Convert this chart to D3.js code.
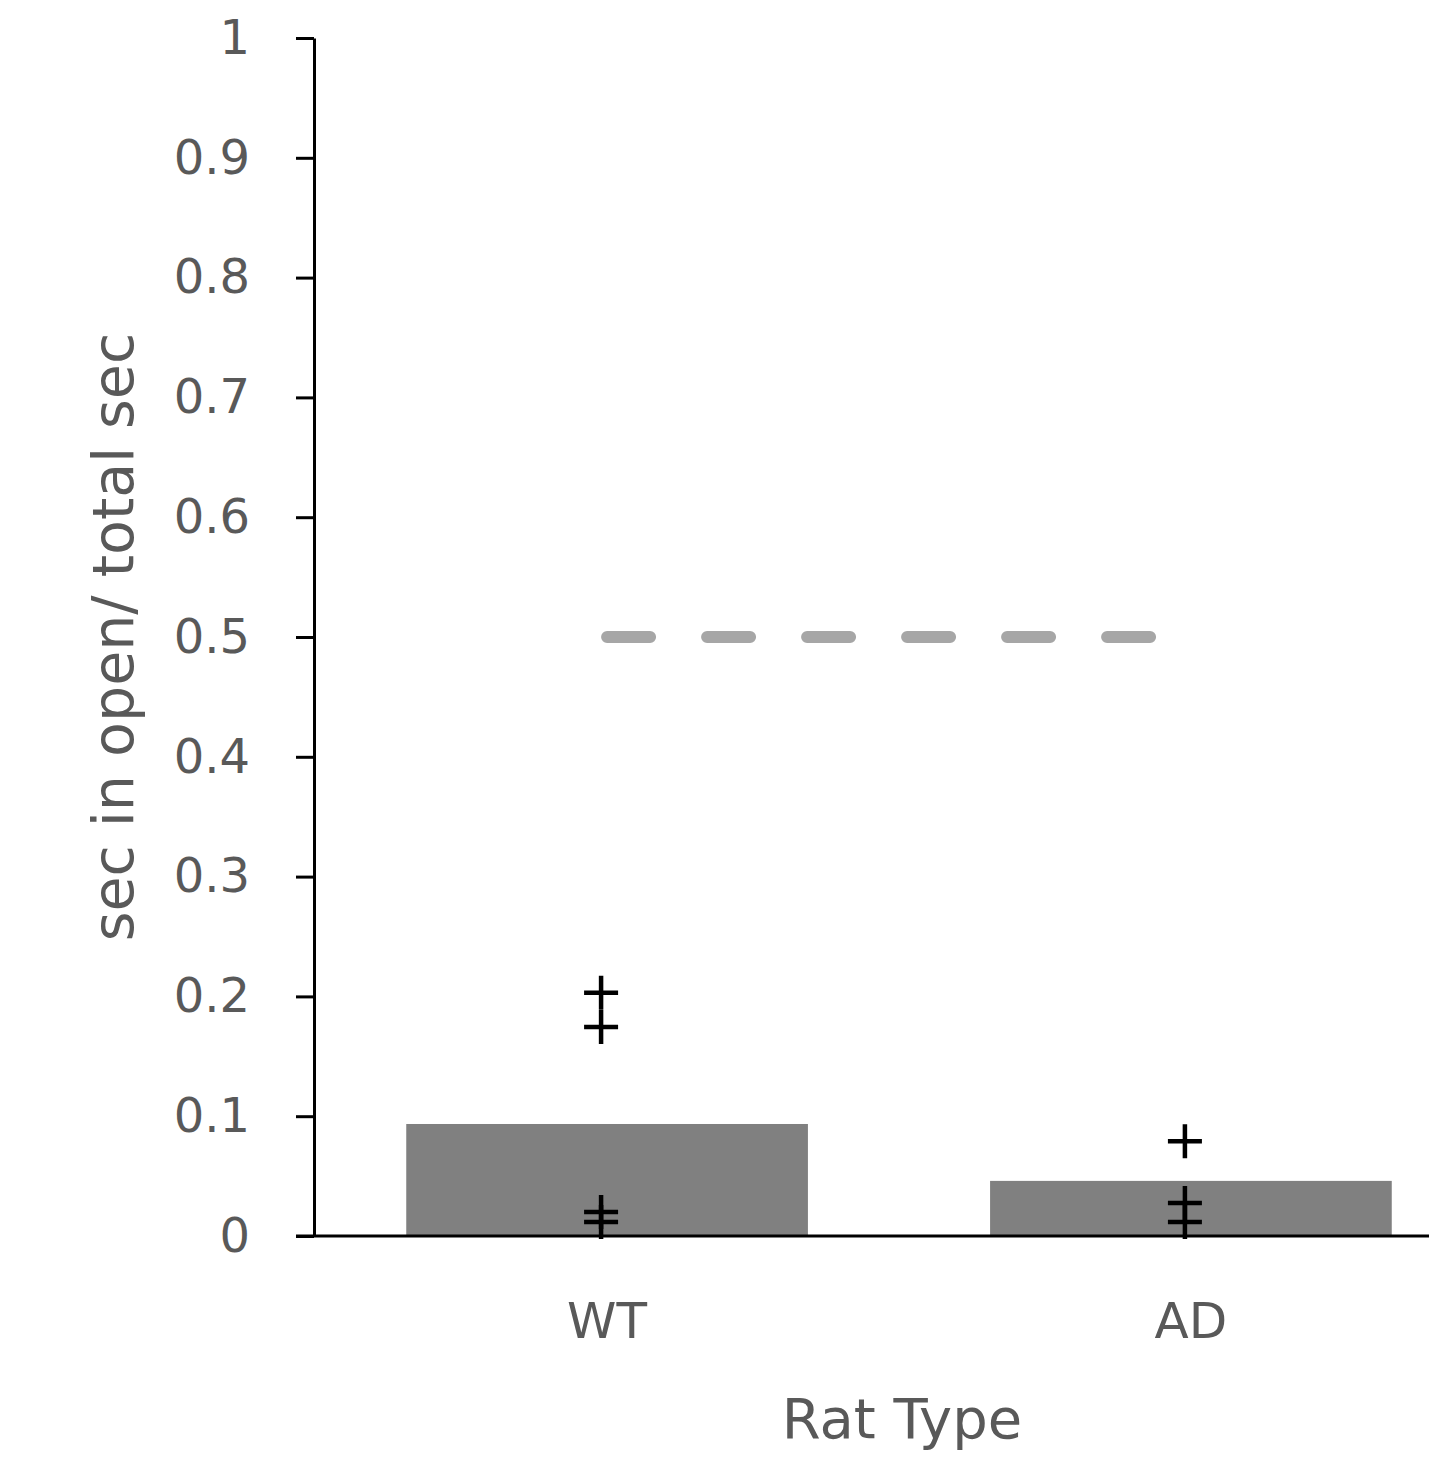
<!DOCTYPE html>
<html>
<head>
<meta charset="utf-8">
<script src="https://cdn.jsdelivr.net/npm/d3@7"></script>
<style>
  body { margin: 0; background: #fff; }
  text { font-family: "DejaVu Sans", sans-serif; fill: #595959; }
</style>
</head>
<body>
<div id="chart"></div>
<script>
const categories = ['WT', 'AD'];
const means = [0.0935, 0.046];
const wtPoints = [0.203, 0.1745, 0.020, 0.0117];
const adPoints = [0.079, 0.0275, 0.0117];
const chance = 0.5;
const yTicks = [0, 0.1, 0.2, 0.3, 0.4, 0.5, 0.6, 0.7, 0.8, 0.9, 1];
const yTickLabels = ['0', '0.1', '0.2', '0.3', '0.4', '0.5', '0.6', '0.7', '0.8', '0.9', '1'];

const width = 1429;
const height = 1472;
const margin = { top: 38, left: 314, bottom: 236 };

const svg = d3.select('#chart')
  .append('svg')
  .attr('width', width)
  .attr('height', height);

const x = d3.scaleBand()
  .domain(categories)
  .range([margin.left, margin.left + 1170])
  .paddingInner(0.312)
  .paddingOuter(0.158);

const y = d3.scaleLinear()
  .domain([0, 1])
  .range([height - margin.bottom, margin.top]);

// bars
svg.append('g')
  .attr('fill', '#808080')
  .selectAll('rect')
  .data(categories)
  .join('rect')
    .attr('x', d => x(d))
    .attr('y', (d, i) => y(means[i]))
    .attr('width', x.bandwidth())
    .attr('height', (d, i) => y(0) - y(means[i]));

// chance line
const cx = d => x(d) + x.bandwidth() / 2;
svg.append('line')
  .attr('x1', cx('WT'))
  .attr('x2', cx('AD'))
  .attr('y1', y(chance))
  .attr('y2', y(chance))
  .attr('stroke', '#a6a6a6')
  .attr('stroke-width', 12)
  .attr('stroke-linecap', 'round')
  .attr('stroke-dasharray', '43,57');

// individual points as plus markers
const pts = [
  ...wtPoints.map(v => ({ cat: 'WT', v })),
  ...adPoints.map(v => ({ cat: 'AD', v }))
];
const half = 17;
svg.append('g')
  .attr('stroke', '#000')
  .attr('stroke-width', 4.5)
  .attr('fill', 'none')
  .selectAll('path')
  .data(pts)
  .join('path')
    .attr('d', d => {
      const px = cx(d.cat) - 6, py = y(d.v);
      const p = d3.path();
      p.moveTo(px - half, py); p.lineTo(px + half, py);
      p.moveTo(px, py - half); p.lineTo(px, py + half);
      return p.toString();
    });

// y axis
const yAxis = svg.append('g')
  .attr('transform', `translate(${margin.left},0)`)
  .call(d3.axisLeft(y)
    .tickValues(yTicks)
    .tickFormat((d, i) => yTickLabels[i])
    .tickSize(18)
    .tickSizeOuter(0)
    .tickPadding(46));
yAxis.select('.domain').attr('stroke', '#000').attr('stroke-width', 3);
yAxis.selectAll('.tick line').attr('stroke', '#000').attr('stroke-width', 3);
yAxis.selectAll('.tick text')
  .attr('font-size', 48)
  .attr('font-family', 'DejaVu Sans')
  .attr('fill', '#595959');

// x axis line
svg.append('line')
  .attr('x1', margin.left - 18)
  .attr('x2', width)
  .attr('y1', y(0))
  .attr('y2', y(0))
  .attr('stroke', '#000')
  .attr('stroke-width', 3);

// category labels
svg.append('g')
  .selectAll('text')
  .data(categories)
  .join('text')
    .attr('x', d => cx(d))
    .attr('y', y(0) + 102)
    .attr('text-anchor', 'middle')
    .attr('font-size', 50)
    .text(d => d);

// axis titles
svg.append('text')
  .attr('x', 902)
  .attr('y', y(0) + 202)
  .attr('text-anchor', 'middle')
  .attr('font-size', 56)
  .text('Rat Type');

svg.append('text')
  .attr('transform', `translate(133,${(y(0) + y(1)) / 2}) rotate(-90)`)
  .attr('text-anchor', 'middle')
  .attr('font-size', 57)
  .text('sec in open/ total sec');
</script>
</body>
</html>
